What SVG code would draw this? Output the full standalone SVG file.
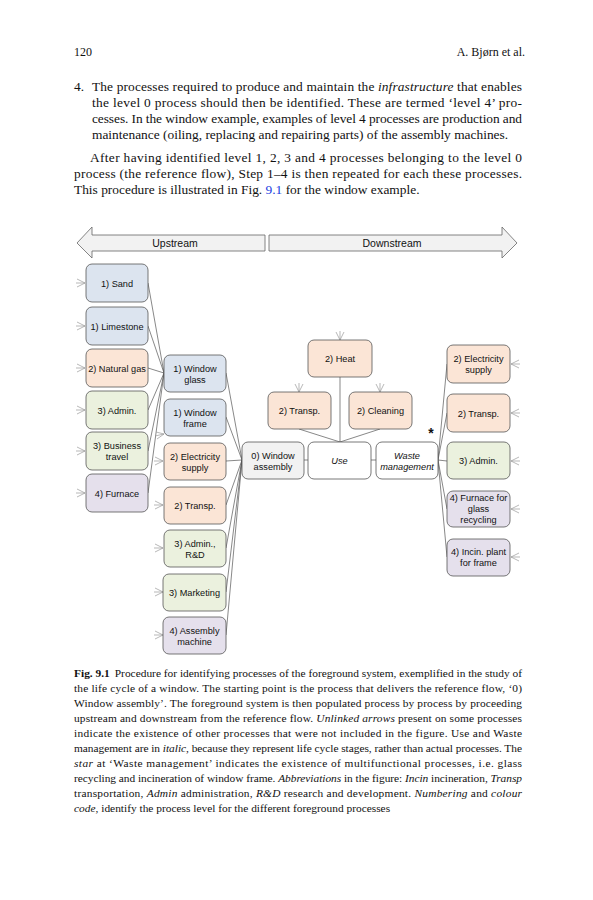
<svg xmlns="http://www.w3.org/2000/svg" width="593" height="900" viewBox="0 0 593 900">
<defs>
<style>
.pg{font-family:"Liberation Serif","Times New Roman",serif;fill:#111;}
.body{font-size:13.4px;}
.cap{font-size:11.4px;}
.hd{font-size:12px;}
.n{font-family:"Liberation Sans",Arial,sans-serif;font-size:9.2px;fill:#111;text-anchor:middle;}
.big{font-family:"Liberation Sans",Arial,sans-serif;font-size:10.5px;fill:#111;text-anchor:middle;}
.box{stroke:#555;stroke-width:0.8;}
.blue{fill:#dce4ef;}
.peach{fill:#fbe5d6;}
.green{fill:#ebf1de;}
.lav{fill:#e5e0ec;}
.gray{fill:#f2f2f2;}
.white{fill:#ffffff;}
.c{stroke:#555;stroke-width:0.7;fill:none;}
.ua{stroke:#999;stroke-width:0.7;fill:none;}
.it{font-style:italic;}
</style>
</defs>
<rect width="593" height="900" fill="#fff"/>

<!-- page text -->
<g id="header">
<text class="pg hd" x="74" y="56">120</text>
<text class="pg hd" x="525" y="56" text-anchor="end">A. Bjørn et al.</text>
</g>
<g id="para1" class="pg body">
<text x="74" y="91">4.</text>
<text x="92" y="91" textLength="430" lengthAdjust="spacing">The processes required to produce and maintain the <tspan class="it">infrastructure</tspan> that enables</text>
<text x="92" y="107" textLength="430" lengthAdjust="spacing">the level 0 process should then be identified. These are termed ‘level 4’ pro-</text>
<text x="92" y="123" textLength="430" lengthAdjust="spacing">cesses. In the window example, examples of level 4 processes are production and</text>
<text x="92" y="139">maintenance (oiling, replacing and repairing parts) of the assembly machines.</text>
</g>
<g id="para2" class="pg body">
<text x="90" y="162" textLength="432" lengthAdjust="spacing">After having identified level 1, 2, 3 and 4 processes belonging to the level 0</text>
<text x="74" y="178" textLength="448" lengthAdjust="spacing">process (the reference flow), Step 1–4 is then repeated for each these processes.</text>
<text x="74" y="194">This procedure is illustrated in Fig. <tspan fill="#1a3de0">9.1</tspan> for the window example.</text>
</g>

<!-- big arrows -->
<g id="upstream">
<path d="M265,235 L92,235 L92,227 L77,243 L92,258 L92,251 L265,251 Z" fill="#f2f2f2" stroke="#666" stroke-width="0.8"/>
<text class="big" x="175" y="247">Upstream</text>
</g>
<g id="downstream">
<path d="M269,235 L502,235 L502,227 L517,243 L502,258 L502,251 L269,251 Z" fill="#f2f2f2" stroke="#666" stroke-width="0.8"/>
<text class="big" x="392" y="247">Downstream</text>
</g>

<!-- connectors -->
<g id="connectors">
<path class="c" d="M148,283 L164,373"/>
<path class="c" d="M148,326 L164,373"/>
<path class="c" d="M148,368 L164,373"/>
<path class="c" d="M148,410 L164,373"/>
<path class="c" d="M148,451 L164,373"/>
<path class="c" d="M148,493 L164,373"/>
<path class="c" d="M226,373 L242,460"/>
<path class="c" d="M226,417 L242,460"/>
<path class="c" d="M226,461 L242,460"/>
<path class="c" d="M226,505 L242,460"/>
<path class="c" d="M226,548 L242,460"/>
<path class="c" d="M226,592 L242,460"/>
<path class="c" d="M226,635 L242,460"/>
<path class="c" d="M304,460 L308,460"/>
<path class="c" d="M371,460 L376,460"/>
<path class="c" d="M340,377 L340,442"/>
<path class="c" d="M299,429 L340,442"/>
<path class="c" d="M380,429 L340,442"/>
<path class="c" d="M438,460 L447,364"/>
<path class="c" d="M438,460 L447,413"/>
<path class="c" d="M438,460 L447,461"/>
<path class="c" d="M438,460 L447,509"/>
<path class="c" d="M438,460 L447,557"/>
<!-- unlinked arrows -->
<path class="ua" d="M77,279 L85,283 L77,287 M76,283 L85,283"/>
<path class="ua" d="M77,322 L85,326 L77,330 M76,326 L85,326"/>
<path class="ua" d="M77,364 L85,368 L77,372 M76,368 L85,368"/>
<path class="ua" d="M77,406 L85,410 L77,414 M76,410 L85,410"/>
<path class="ua" d="M77,447 L85,451 L77,455 M76,451 L85,451"/>
<path class="ua" d="M77,489 L85,493 L77,497 M76,493 L85,493"/>
<path class="ua" d="M156,432 L164,434 L157,439 M155,436 L164,434"/>
<path class="ua" d="M155,457 L163,461 L155,465 M154,461 L163,461"/>
<path class="ua" d="M155,501 L163,505 L155,509 M154,505 L163,505"/>
<path class="ua" d="M155,544 L163,548 L155,552 M154,548 L163,548"/>
<path class="ua" d="M155,588 L163,592 L155,596 M154,592 L163,592"/>
<path class="ua" d="M155,631 L163,635 L155,639 M154,635 L163,635"/>
<path class="ua" d="M336,332 L340,340 L344,332 M340,331 L340,340"/>
<path class="ua" d="M295,384 L299,392 L303,384 M299,383 L299,392"/>
<path class="ua" d="M376,384 L380,392 L384,384 M380,383 L380,392"/>
<path class="ua" d="M519,360 L511,364 L519,368 M520,364 L511,364"/>
<path class="ua" d="M519,409 L511,413 L519,417 M520,413 L511,413"/>
<path class="ua" d="M519,457 L511,461 L519,465 M520,461 L511,461"/>
<path class="ua" d="M519,505 L511,509 L519,513 M520,509 L511,509"/>
<path class="ua" d="M519,553 L511,557 L519,561 M520,557 L511,557"/>
</g>

<!-- column 1 -->
<g id="sand"><rect class="box blue" x="86" y="264" width="62" height="38" rx="6"/><text class="n" x="117" y="286.5">1) Sand</text></g>
<g id="limestone"><rect class="box blue" x="86" y="307" width="62" height="38" rx="6"/><text class="n" x="117" y="329.5">1) Limestone</text></g>
<g id="natural-gas"><rect class="box peach" x="86" y="349" width="62" height="38" rx="6"/><text class="n" x="117" y="371.5">2) Natural gas</text></g>
<g id="admin-1"><rect class="box green" x="86" y="391" width="62" height="38" rx="6"/><text class="n" x="117" y="413.5">3) Admin.</text></g>
<g id="business-travel"><rect class="box green" x="86" y="432" width="62" height="38" rx="6"/><text class="n" x="117" y="449">3) Business</text><text class="n" x="117" y="460">travel</text></g>
<g id="furnace"><rect class="box lav" x="86" y="474" width="62" height="38" rx="6"/><text class="n" x="117" y="496.5">4) Furnace</text></g>

<!-- column 2 -->
<g id="window-glass"><rect class="box blue" x="164" y="355" width="62" height="37" rx="6"/><text class="n" x="195" y="372">1) Window</text><text class="n" x="195" y="383">glass</text></g>
<g id="window-frame"><rect class="box blue" x="164" y="399" width="62" height="37" rx="6"/><text class="n" x="195" y="415.5">1) Window</text><text class="n" x="195" y="426.5">frame</text></g>
<g id="electricity-up"><rect class="box peach" x="164" y="443" width="62" height="37" rx="6"/><text class="n" x="195" y="459.5">2) Electricity</text><text class="n" x="195" y="470.5">supply</text></g>
<g id="transp-up"><rect class="box peach" x="164" y="487" width="62" height="37" rx="6"/><text class="n" x="195" y="508.5">2) Transp.</text></g>
<g id="admin-rd"><rect class="box green" x="164" y="530" width="62" height="37" rx="6"/><text class="n" x="195" y="546.5">3) Admin.,</text><text class="n" x="195" y="557.5">R&amp;D</text></g>
<g id="marketing"><rect class="box green" x="163" y="574" width="63" height="37" rx="6"/><text class="n" x="194.5" y="595.5">3) Marketing</text></g>
<g id="assembly-machine"><rect class="box lav" x="163" y="617" width="63" height="37" rx="6"/><text class="n" x="194.5" y="633.5">4) Assembly</text><text class="n" x="194.5" y="644.5">machine</text></g>

<!-- centre row -->
<g id="window-assembly"><rect class="box gray" x="242" y="442" width="62" height="37" rx="6"/><text class="n" x="273" y="458.5">0) Window</text><text class="n" x="273" y="469.5">assembly</text></g>
<g id="use"><rect class="box white" x="308" y="442" width="63" height="37" rx="6"/><text class="n it" x="339.5" y="464">Use</text></g>
<g id="waste-management"><rect class="box white" x="376" y="442" width="62" height="37" rx="6"/><text class="n it" x="407" y="458.5">Waste</text><text class="n it" x="407" y="469.5">management</text></g>
<g id="star"><text x="431" y="438" font-family="Liberation Sans,Arial,sans-serif" font-size="14" font-weight="bold" text-anchor="middle" fill="#111">*</text></g>

<!-- top -->
<g id="heat"><rect class="box peach" x="308" y="340" width="64" height="37" rx="6"/><text class="n" x="340" y="361.5">2) Heat</text></g>
<g id="transp-use"><rect class="box peach" x="268" y="392" width="63" height="37" rx="6"/><text class="n" x="299.5" y="413.5">2) Transp.</text></g>
<g id="cleaning"><rect class="box peach" x="349" y="392" width="63" height="37" rx="6"/><text class="n" x="380.5" y="413.5">2) Cleaning</text></g>

<!-- right column -->
<g id="electricity-down"><rect class="box peach" x="447" y="345" width="63" height="38" rx="6"/><text class="n" x="478.5" y="361.5">2) Electricity</text><text class="n" x="478.5" y="372.5">supply</text></g>
<g id="transp-down"><rect class="box peach" x="447" y="394" width="63" height="38" rx="6"/><text class="n" x="478.5" y="416.5">2) Transp.</text></g>
<g id="admin-down"><rect class="box green" x="447" y="442" width="63" height="37" rx="6"/><text class="n" x="478.5" y="464">3) Admin.</text></g>
<g id="furnace-glass"><rect class="box lav" x="447" y="491" width="63" height="36" rx="6"/><text class="n" x="478.5" y="501">4) Furnace for</text><text class="n" x="478.5" y="512">glass</text><text class="n" x="478.5" y="523">recycling</text></g>
<g id="incin-plant"><rect class="box lav" x="447" y="539" width="63" height="37" rx="6"/><text class="n" x="478.5" y="555">4) Incin. plant</text><text class="n" x="478.5" y="566">for frame</text></g>

<!-- caption -->
<g id="caption" class="pg cap">
<text x="74" y="677" textLength="448" lengthAdjust="spacing"><tspan font-weight="bold">Fig. 9.1</tspan><tspan dx="5">Procedure for identifying processes of the foreground system, exemplified in the study of</tspan></text>
<text x="74" y="692" textLength="448" lengthAdjust="spacing">the life cycle of a window. The starting point is the process that delivers the reference flow, ‘0)</text>
<text x="74" y="707" textLength="448" lengthAdjust="spacing">Window assembly’. The foreground system is then populated process by process by proceeding</text>
<text x="74" y="722" textLength="448" lengthAdjust="spacing">upstream and downstream from the reference flow. <tspan class="it">Unlinked arrows</tspan> present on some processes</text>
<text x="74" y="737" textLength="448" lengthAdjust="spacing">indicate the existence of other processes that were not included in the figure. Use and Waste</text>
<text x="74" y="752" textLength="448" lengthAdjust="spacing">management are in <tspan class="it">italic</tspan>, because they represent life cycle stages, rather than actual processes. The</text>
<text x="74" y="767" textLength="448" lengthAdjust="spacing"><tspan class="it">star</tspan> at ‘Waste management’ indicates the existence of multifunctional processes, i.e. glass</text>
<text x="74" y="782" textLength="448" lengthAdjust="spacing">recycling and incineration of window frame. <tspan class="it">Abbreviations</tspan> in the figure: <tspan class="it">Incin</tspan> incineration, <tspan class="it">Transp</tspan></text>
<text x="74" y="797" textLength="448" lengthAdjust="spacing">transportation, <tspan class="it">Admin</tspan> administration, <tspan class="it">R&amp;D</tspan> research and development. <tspan class="it">Numbering</tspan> and <tspan class="it">colour</tspan></text>
<text x="74" y="812"><tspan class="it">code</tspan>, identify the process level for the different foreground processes</text>
</g>
</svg>
